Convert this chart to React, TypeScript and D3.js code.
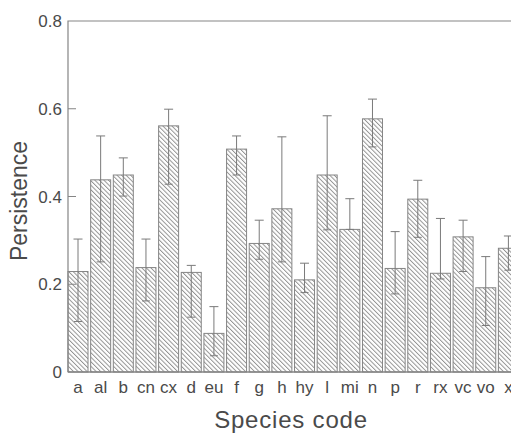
import React from 'react';
import { scaleBand, scaleLinear } from 'd3';

// species codes along the x axis
const species = ['a', 'al', 'b', 'cn', 'cx', 'd', 'eu', 'f', 'g', 'h', 'hy', 'l', 'mi', 'n', 'p', 'r', 'rx', 'vc', 'vo', 'x'];
// mean persistence per species
const persistence = [0.229, 0.438, 0.449, 0.238, 0.561, 0.227, 0.088, 0.508, 0.293, 0.372, 0.21, 0.449, 0.325, 0.577, 0.236, 0.394, 0.225, 0.308, 0.192, 0.282];
// error bar ends
const upper = [0.303, 0.538, 0.488, 0.303, 0.599, 0.243, 0.149, 0.538, 0.346, 0.536, 0.248, 0.584, 0.395, 0.622, 0.32, 0.437, 0.35, 0.346, 0.263, 0.31];
const lower = [0.115, 0.251, 0.401, 0.162, 0.428, 0.125, 0.037, 0.449, 0.257, 0.251, 0.181, 0.324, 0.325, 0.513, 0.178, 0.307, 0.212, 0.229, 0.106, 0.232];
const yTicks = [0, 0.2, 0.4, 0.6, 0.8];

const W = 511;
const H = 434;
const left = 68;
const top = 21;
const bottom = 372;
const font = 'Liberation Sans, Arial, Helvetica, sans-serif';
const ink = '#4a4a4a';
const line = '#858585';

export default function App() {
  // x: bars sit right against the y axis, the last one runs off the page
  const x = scaleBand<string>()
    .domain(species)
    .range([left, 518.4])
    .paddingInner(0.117)
    .paddingOuter(0);
  const y = scaleLinear().domain([0, 0.8]).range([bottom, top]);
  const bw = x.bandwidth();

  return (
    <svg width={W} height={H} style={{ position: 'absolute', left: 0, top: 0, background: '#fff' }}>
      <defs>
        <pattern id="hatch" patternUnits="userSpaceOnUse" width="3.2" height="10" patternTransform="rotate(-45)">
          <line x1="0.5" y1="0" x2="0.5" y2="10" stroke="#8a8a8a" strokeWidth="0.9" />
        </pattern>
      </defs>

      {/* bars */}
      {species.map((s, i) => (
        <rect
          key={s}
          x={x(s)}
          y={y(persistence[i])}
          width={bw}
          height={bottom - y(persistence[i])}
          fill="url(#hatch)"
          stroke={line}
          strokeWidth={1}
        />
      ))}

      {/* error bars */}
      {species.map((s, i) => {
        const cx = (x(s) as number) + bw / 2;
        return (
          <g key={'e' + s} stroke="#7a7a7a" strokeWidth={1}>
            <line x1={cx} x2={cx} y1={y(upper[i])} y2={y(lower[i])} />
            <line x1={cx - 4.5} x2={cx + 4.5} y1={y(upper[i])} y2={y(upper[i])} />
            <line x1={cx - 4} x2={cx + 4} y1={y(lower[i])} y2={y(lower[i])} />
          </g>
        );
      })}

      {/* frame: left axis, top line, bottom axis */}
      <path
        d={['M', left, bottom, 'V', top, 'H', W].join(' ')}
        fill="none"
        stroke={line}
        strokeWidth={1.2}
      />
      <line x1={left} x2={W} y1={bottom} y2={bottom} stroke={line} strokeWidth={1.4} />

      {/* y ticks */}
      {yTicks.map((t) => (
        <g key={t} transform={`translate(0, ${y(t)})`}>
          {t > 0 && t < 0.8 && <line x1={left} x2={left + 8} stroke={line} strokeWidth={1} />}
          <text x={62} dy="0.36em" textAnchor="end" fontFamily={font} fontSize={17} fill={ink}>
            {t === 0 ? '0' : t.toFixed(1)}
          </text>
        </g>
      ))}

      {/* x labels */}
      {species.map((s) => (
        <text
          key={'l' + s}
          x={(x(s) as number) + bw / 2}
          y={393}
          textAnchor="middle"
          fontFamily={font}
          fontSize={17}
          fill={ink}
        >
          {s}
        </text>
      ))}

      {/* axis titles */}
      <text x={291} y={428} textAnchor="middle" fontFamily={font} fontSize={24} letterSpacing={0.8} fill={ink}>
        Species code
      </text>
      <text
        transform="translate(27, 201) rotate(-90)"
        textAnchor="middle"
        fontFamily={font}
        fontSize={23}
        fill={ink}
      >
        Persistence
      </text>
    </svg>
  );
}
